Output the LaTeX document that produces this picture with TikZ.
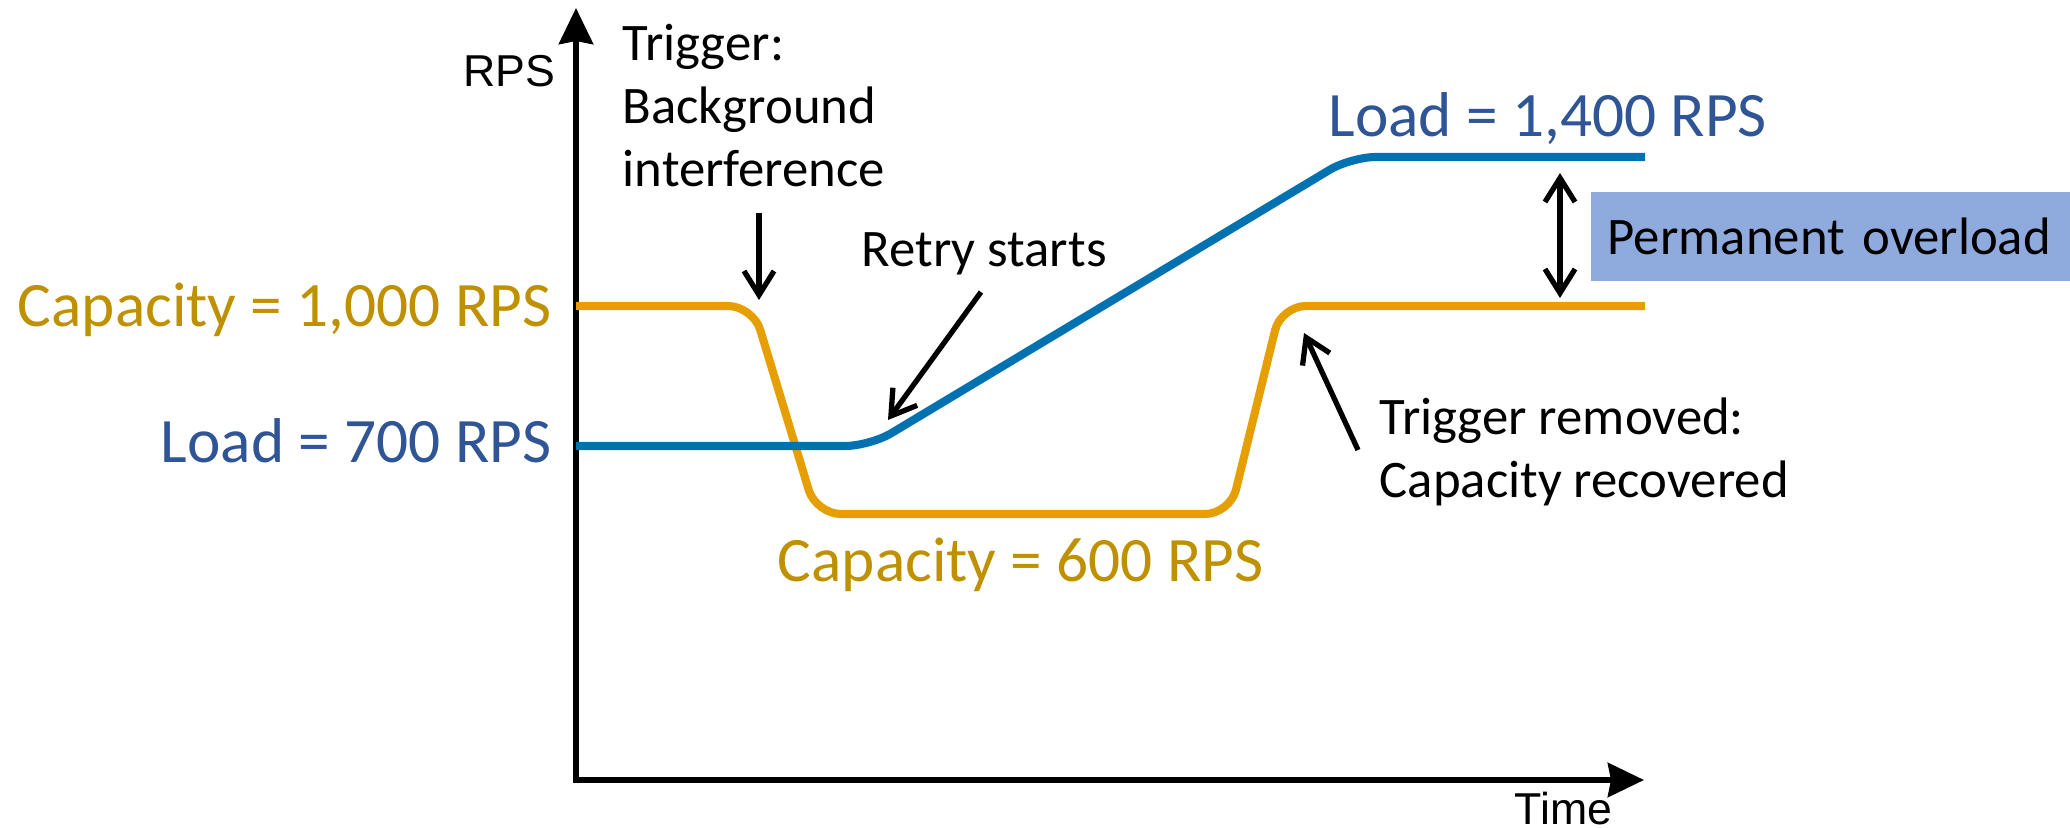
\documentclass[tikz,border=0pt]{standalone}
\usepackage{fontspec}
\setmainfont{Carlito}
\newfontfamily\axisfont{Liberation Sans}
\usetikzlibrary{arrows.meta}
\definecolor{capline}{HTML}{E69F00}
\definecolor{loadline}{HTML}{0072B2}
\definecolor{captext}{HTML}{BF9000}
\definecolor{loadtext}{HTML}{2F5597}
\definecolor{boxfill}{HTML}{8FAADC}
\tikzset{
  axis/.style={line width=1.7pt, {Stealth[length=0.36cm,width=0.34cm,inset=0.03cm]}-{Stealth[length=0.36cm,width=0.34cm,inset=0.03cm]}},
  axlabel/.style={inner sep=0pt, font=\axisfont\fontsize{12.7}{15}\selectfont},
  series/.style={line width=2.3pt, rounded corners=0.25cm},
  bigtext/.style={inner sep=0pt, font=\fontsize{18}{21.6}\selectfont},
  note/.style={inner sep=0pt, align=left, font=\fontsize{15}{17.93}\selectfont},
  pointer/.style={line width=1.5pt, -{Straight Barb[length=0.24cm,width=0.3cm]}},
  twoway/.style={line width=1.5pt, {Straight Barb[length=0.24cm,width=0.3cm]}-{Straight Barb[length=0.24cm,width=0.3cm]}},
}
\begin{document}
\begin{tikzpicture}[x=0.01cm,y=-0.01cm]
\useasboundingbox (0,0) rectangle (2070,828);

% axes
\coordinate (ytop) at (576,8);
\coordinate (origin) at (576,780);
\coordinate (xend) at (1644,780);
\draw[axis] (ytop) -- (origin) -- (xend);
\node[axlabel, anchor=base east] (rps) at (556,87) {RPS};
\node[axlabel, anchor=base west] (time) at (1514,824) {Time};

% capacity and load curves
\draw[series, capline] (576,306) -- (753,306) -- (816,514) -- (1230,514) -- (1281,306) -- (1645,306);
\draw[series, loadline] (576,446) -- (870,446) -- (1351,157) -- (1645,157);

% value labels
\node[bigtext, captext, anchor=base east] (cap1000) at (552,327) {Capacity = 1,000 RPS};
\node[bigtext, loadtext, anchor=base east] (load700) at (552,463) {Load = 700 RPS};
\node[bigtext, loadtext, anchor=base west] (load1400) at (1328,137) {Load = 1,400 RPS};
\node[bigtext, captext, anchor=base west] (cap600) at (777,582) {Capacity = 600 RPS};

% annotations (base anchor sits on the last line)
\node[note, anchor=base west] (trigger) at (622,187) {Trigger:\\Background\\interference};
\node[note, anchor=base west] (retry) at (861,267) {Retry starts};
\node[note, anchor=base west] (removed) at (1379,498) {Trigger removed:\\Capacity recovered};
\node[note, anchor=west, fill=boxfill, minimum height=0.89cm, text width=4.46cm, inner xsep=0.17cm, inner ysep=0pt] (overload) at (1590,236.5) {Permanent overload};

% annotation arrows
\coordinate (trigFrom) at (759,213);
\coordinate (trigTo) at (759,300);
\coordinate (retryFrom) at (981,292);
\coordinate (retryTo) at (888,420);
\coordinate (remFrom) at (1358,450);
\coordinate (remTo) at (1304,333);
\coordinate (gapTop) at (1560,173);
\coordinate (gapBot) at (1560,298);
\draw[pointer] (trigFrom) -- (trigTo);
\draw[pointer] (retryFrom) -- (retryTo);
\draw[pointer] (remFrom) -- (remTo);
\draw[twoway] (gapTop) -- (gapBot);
\end{tikzpicture}
\end{document}
